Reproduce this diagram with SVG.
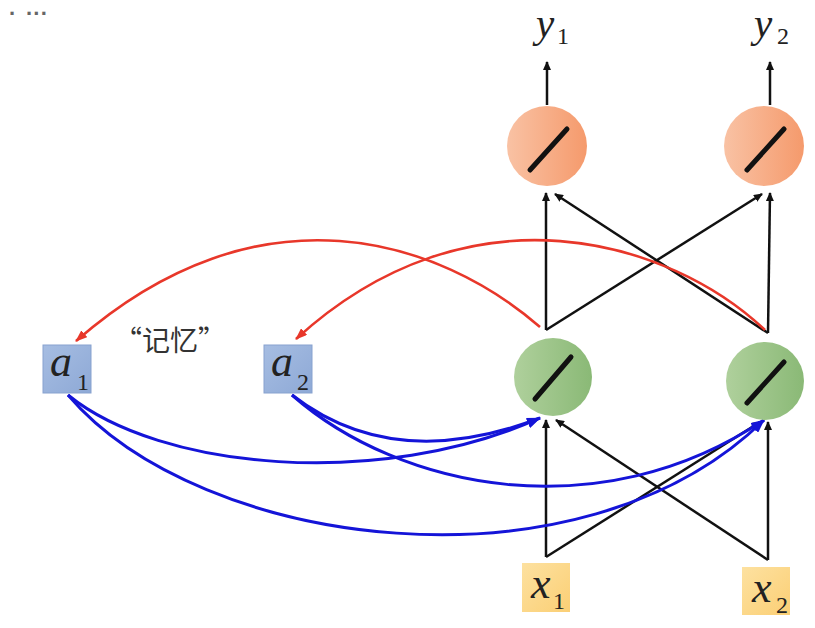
<svg xmlns="http://www.w3.org/2000/svg" width="815" height="628" viewBox="0 0 815 628">
<style>
.blk{stroke:#111;stroke-width:2.5;fill:none}
.red{stroke:#e8372a;stroke-width:2.6;fill:none}
.blu{stroke:#1414d8;stroke-width:3;fill:none}
.slash{stroke:#111;stroke-width:5;stroke-linecap:round}
.var{font-family:"Liberation Serif",serif;font-style:italic;fill:#222;font-size:44px}
.sub{font-family:"Liberation Serif",serif;fill:#222;font-size:24px}
.cn{font-family:"Noto Sans CJK SC",sans-serif;fill:#333}
.dot{font-family:"Liberation Sans",sans-serif;font-size:22px;font-weight:bold;fill:#666}
</style>
<defs>
<linearGradient id="gOr" x1="0" y1="0" x2="1" y2="0"><stop offset="0" stop-color="#f9c2a4"/><stop offset="1" stop-color="#f59a6c"/></linearGradient>
<linearGradient id="gGr" x1="0" y1="0" x2="1" y2="0"><stop offset="0" stop-color="#afd09c"/><stop offset="1" stop-color="#8ab976"/></linearGradient>
<linearGradient id="gBl" x1="0" y1="0" x2="1" y2="1"><stop offset="0" stop-color="#a6bde2"/><stop offset="1" stop-color="#8ea9d6"/></linearGradient>
<linearGradient id="gYe" x1="0" y1="0" x2="1" y2="1"><stop offset="0" stop-color="#fde1a0"/><stop offset="1" stop-color="#fbcf75"/></linearGradient>
<marker id="ab" markerWidth="9" markerHeight="8" refX="8" refY="4" orient="auto" markerUnits="userSpaceOnUse"><path d="M0,0 L9,4 L0,8 Z" fill="#111"/></marker>
<marker id="ar" markerWidth="12" markerHeight="9" refX="11" refY="4.5" orient="auto" markerUnits="userSpaceOnUse"><path d="M0,0 L12,4.5 L0,9 Z" fill="#e8372a"/></marker>
<marker id="au" markerWidth="14" markerHeight="10" refX="13" refY="5" orient="auto" markerUnits="userSpaceOnUse"><path d="M0,0 L14,5 L0,10 Z" fill="#1414d8"/></marker>
</defs>
<text class="dot" x="9" y="21">·</text>
<text class="dot" x="26" y="21">···</text>
<g id="connectors">
<line class="blk" x1="547" y1="105" x2="547" y2="62" marker-end="url(#ab)"/>
<line class="blk" x1="770" y1="105" x2="770" y2="62" marker-end="url(#ab)"/>
<line class="blk" x1="546" y1="330" x2="546" y2="193" marker-end="url(#ab)"/>
<line class="blk" x1="546" y1="330" x2="762" y2="194" marker-end="url(#ab)"/>
<line class="blk" x1="768" y1="333" x2="770" y2="193" marker-end="url(#ab)"/>
<line class="blk" x1="768" y1="333" x2="555" y2="194" marker-end="url(#ab)"/>
<line class="blk" x1="546" y1="557" x2="546" y2="420" marker-end="url(#ab)"/>
<line class="blk" x1="546" y1="557" x2="760" y2="422" marker-end="url(#ab)"/>
<line class="blk" x1="768" y1="560" x2="768" y2="422" marker-end="url(#ab)"/>
<line class="blk" x1="768" y1="560" x2="556" y2="420" marker-end="url(#ab)"/>
<path class="red" d="M540,327 C440,240 260,180 76,341" marker-end="url(#ar)"/>
<path class="red" d="M765,330 C670,240 470,180 296,339" marker-end="url(#ar)"/>
<path class="blu" d="M68,395 C160,470 380,490 540,418" marker-end="url(#au)"/>
<path class="blu" d="M68,395 C200,550 580,600 764,420" marker-end="url(#au)"/>
<path class="blu" d="M292,395 C350,440 430,460 540,418" marker-end="url(#au)"/>
<path class="blu" d="M292,395 C400,490 600,530 764,420" marker-end="url(#au)"/>
</g>
<g id="y1"><circle cx="547" cy="146" r="40" fill="url(#gOr)"/><line class="slash" x1="530" y1="170" x2="567" y2="129"/>
<text class="var" x="536" y="37" style="font-size:41px">y</text><text class="sub" x="557" y="44">1</text></g>
<g id="y2"><circle cx="764" cy="146" r="40" fill="url(#gOr)"/><line class="slash" x1="747" y1="170" x2="784" y2="129"/>
<text class="var" x="754" y="37" style="font-size:41px">y</text><text class="sub" x="777" y="44">2</text></g>
<g id="h1"><circle cx="553" cy="377" r="39" fill="url(#gGr)"/><line class="slash" x1="535" y1="399" x2="571" y2="357"/></g>
<g id="h2"><circle cx="765" cy="381" r="39" fill="url(#gGr)"/><line class="slash" x1="747" y1="403" x2="784" y2="362"/></g>
<g id="a1"><rect x="43" y="345" width="48" height="48" fill="url(#gBl)" stroke="#87a2cf" stroke-width="1"/>
<text class="var" x="50" y="376">a</text><text class="sub" x="77" y="390">1</text></g>
<g id="a2"><rect x="264" y="345" width="48" height="48" fill="url(#gBl)" stroke="#87a2cf" stroke-width="1"/>
<text class="var" x="271" y="376">a</text><text class="sub" x="297" y="390">2</text></g>
<text class="cn" x="114" y="351" font-size="28">“记忆”</text>
<g id="x1"><rect x="522" y="563" width="48" height="49" fill="url(#gYe)"/>
<text class="var" x="531" y="598">x</text><text class="sub" x="553" y="609">1</text></g>
<g id="x2"><rect x="742" y="567" width="48" height="48" fill="url(#gYe)"/>
<text class="var" x="752" y="602">x</text><text class="sub" x="776" y="613">2</text></g>
</svg>
